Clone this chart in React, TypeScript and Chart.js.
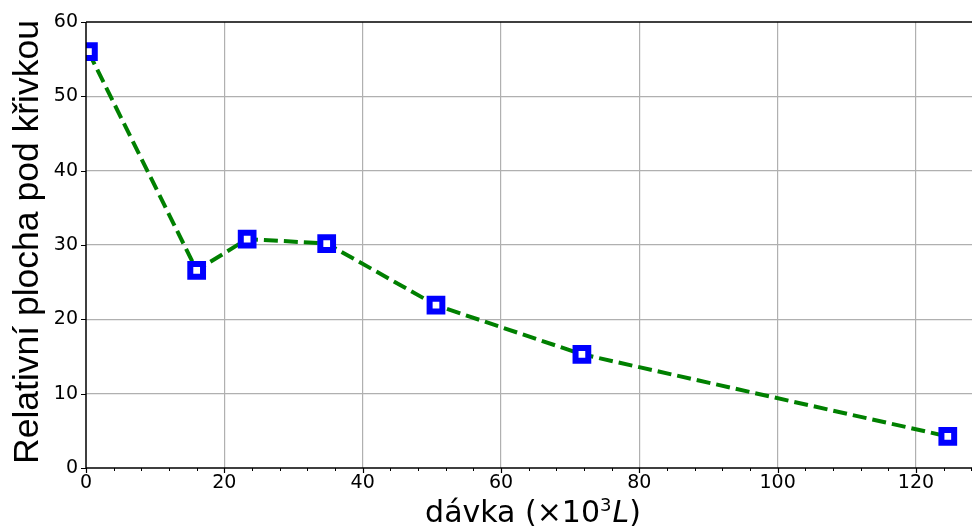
import React, { useEffect, useRef } from 'react';
import { Chart, registerables } from 'chart.js';

Chart.register(...registerables);

// ---- data ----
const doseX = [0.35, 16.0, 23.3, 34.8, 50.6, 71.7, 124.6];
const areaY = [56.0, 26.6, 30.8, 30.2, 21.9, 15.3, 4.25];
const xTickValues = [0, 20, 40, 60, 80, 100, 120];
const yTickValues = [0, 10, 20, 30, 40, 50, 60];
const xMinorStep = 4;
const yTitleText = 'Relativní plocha pod křivkou';
const xTitleMain = 'dávka (×10';
const xTitleSup = '3';
const xTitleItalic = 'L';
const xTitleEnd = ')';

const frame = {
  id: 'frame',
  afterDatasetsDraw(chart: any) {
    const { ctx, chartArea } = chart;
    const { left, right, top, bottom } = chartArea;
    const xs = chart.scales.x;
    const ys = chart.scales.y;
    ctx.save();
    ctx.strokeStyle = '#000';
    ctx.lineWidth = 1.5;
    ctx.beginPath();
    ctx.moveTo(left, top);
    ctx.lineTo(left, bottom);
    ctx.lineTo(right + 2, bottom);
    ctx.moveTo(left, top);
    ctx.lineTo(right + 2, top);
    ctx.stroke();
    // y major ticks
    ctx.lineWidth = 1.2;
    ctx.beginPath();
    for (const v of yTickValues) {
      const y = Math.round(ys.getPixelForValue(v)) + 0.5;
      ctx.moveTo(left - 5, y);
      ctx.lineTo(left, y);
    }
    // x major ticks
    for (const v of xTickValues) {
      const x = Math.round(xs.getPixelForValue(v)) + 0.5;
      ctx.moveTo(x, bottom);
      ctx.lineTo(x, bottom + 5);
    }
    ctx.stroke();
    // x minor ticks
    ctx.lineWidth = 1;
    ctx.beginPath();
    for (let v = 0; v <= xs.max; v += xMinorStep) {
      if (v % 20 === 0) continue;
      const x = Math.round(xs.getPixelForValue(v)) + 0.5;
      ctx.moveTo(x, bottom);
      ctx.lineTo(x, bottom + 3);
    }
    ctx.stroke();
    ctx.restore();
  },
  afterDraw(chart: any) {
    const { ctx, chartArea } = chart;
    ctx.save();
    ctx.fillStyle = '#000';
    // y title
    ctx.save();
    ctx.translate(28, (chartArea.top + chartArea.bottom) / 2 - 3);
    ctx.rotate(-Math.PI / 2);
    ctx.textAlign = 'center';
    ctx.textBaseline = 'middle';
    ctx.font = '35.5px "Liberation Sans"';
    ctx.fillText(yTitleText, 0, 0);
    ctx.restore();
    // x title
    ctx.textBaseline = 'alphabetic';
    ctx.textAlign = 'left';
    const mainFont = '30px "DejaVu Sans"';
    const supFont = '18px "DejaVu Sans"';
    const itFont = 'italic 30px "DejaVu Sans"';
    ctx.font = mainFont;
    const w1 = ctx.measureText(xTitleMain).width;
    const w4 = ctx.measureText(xTitleEnd).width;
    ctx.font = supFont;
    const w2 = ctx.measureText(xTitleSup).width;
    ctx.font = itFont;
    const w3 = ctx.measureText(xTitleItalic).width;
    const total = w1 + w2 + w3 + w4 + 1;
    const cx = (chartArea.left + chartArea.right) / 2 + 4;
    let x = cx - total / 2;
    const base = 522;
    ctx.font = mainFont;
    ctx.fillText(xTitleMain, x, base);
    x += w1;
    ctx.font = supFont;
    ctx.fillText(xTitleSup, x, base - 11);
    x += w2 + 1;
    ctx.font = itFont;
    ctx.fillText(xTitleItalic, x, base);
    x += w3;
    ctx.font = mainFont;
    ctx.fillText(xTitleEnd, x, base);
    ctx.restore();
  },
};

export default function App() {
  const ref = useRef<HTMLCanvasElement>(null);
  useEffect(() => {
    document.body.style.margin = '0';
    const canvas = ref.current!;
    const chart = new Chart(canvas, {
      type: 'scatter',
      data: {
        datasets: [
          {
            data: doseX.map((x, i) => ({ x, y: areaY[i] })),
            showLine: true,
            borderColor: '#008000',
            borderWidth: 4,
            borderDash: [14, 6],
            pointStyle: 'rect',
            pointRadius: 9,
            pointHoverRadius: 9,
            pointBorderWidth: 6,
            pointBorderColor: '#0000ff',
            pointBackgroundColor: '#ffffff',
            clip: 0,
          } as any,
        ],
      },
      options: {
        responsive: false,
        animation: false,
        devicePixelRatio: 1,
        layout: { autoPadding: false, padding: { left: 0, top: 22, right: 0, bottom: 0 } },
        plugins: { legend: { display: false }, tooltip: { enabled: false } },
        events: [],
        scales: {
          x: {
            type: 'linear',
            min: 0,
            max: 128.1,
            afterFit: (s: any) => {
              s.height = 58;
              s.paddingRight = 0;
              s.paddingLeft = 0;
            },
            ticks: {
              stepSize: 20,
              includeBounds: false,
              autoSkip: false,
              maxRotation: 0,
              color: '#000',
              padding: 4,
              font: { family: 'DejaVu Sans', size: 19 },
            },
            grid: {
              drawTicks: false,
              lineWidth: 1.2,
              color: (c: any) => (c.tick && c.tick.value !== 0 ? '#b0b0b0' : 'rgba(0,0,0,0)'),
            },
            border: { display: false },
          },
          y: {
            type: 'linear',
            min: 0,
            max: 60,
            afterFit: (s: any) => {
              s.width = 86;
              s.paddingTop = 0;
              s.paddingBottom = 0;
            },
            ticks: {
              stepSize: 10,
              color: '#000',
              padding: 8,
              font: { family: 'DejaVu Sans', size: 19 },
            },
            grid: {
              drawTicks: false,
              lineWidth: 1.2,
              color: (c: any) =>
                c.tick && c.tick.value !== 0 && c.tick.value !== 60 ? '#b0b0b0' : 'rgba(0,0,0,0)',
            },
            border: { display: false },
          },
        },
      },
      plugins: [frame],
    });
    return () => chart.destroy();
  }, []);
  return (
    <div style={{ position: 'fixed', left: 0, top: 0, width: 972, height: 526, background: '#fff' }}>
      <canvas ref={ref} width={972} height={526} style={{ display: 'block' }} />
    </div>
  );
}
